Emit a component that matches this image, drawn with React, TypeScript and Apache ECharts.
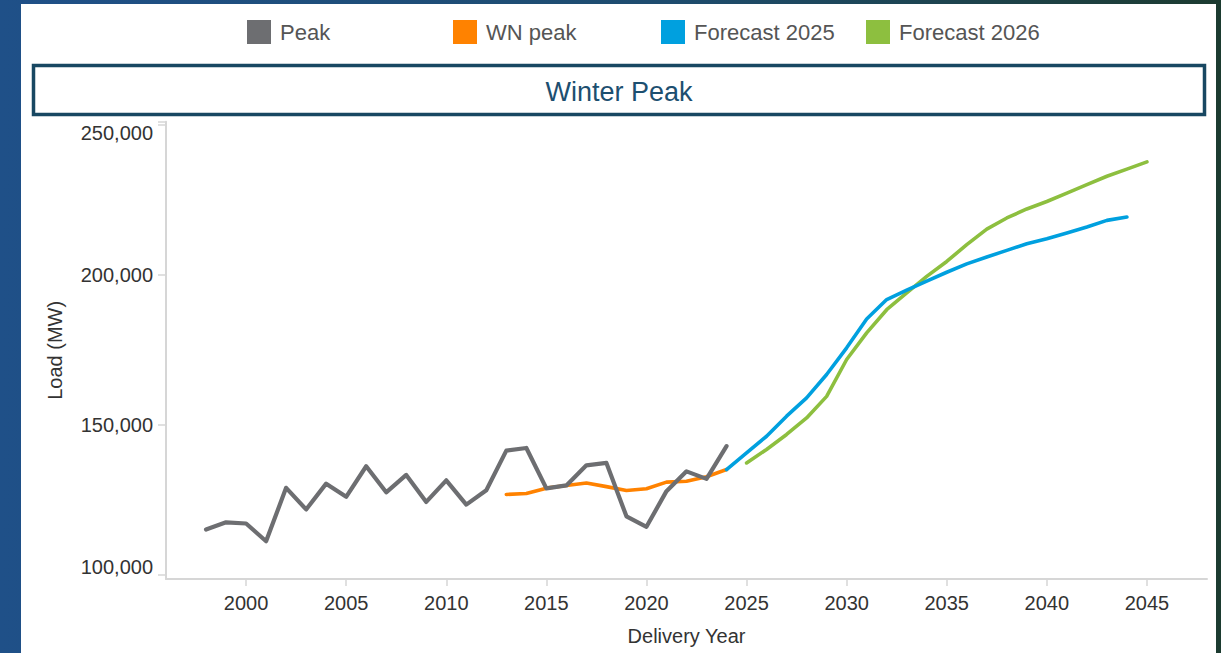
import React, { useEffect, useRef } from "react";
import * as echarts from "echarts";

const peakYears = [1998, 1999, 2000, 2001, 2002, 2003, 2004, 2005, 2006, 2007, 2008, 2009, 2010, 2011, 2012, 2013, 2014, 2015, 2016, 2017, 2018, 2019, 2020, 2021, 2022, 2023, 2024];
const peakValues = [115000, 117400, 117000, 111100, 128900, 121700, 130300, 125900, 136100, 127400, 133200, 124200, 131400, 123300, 128100, 141300, 142200, 128700, 129700, 136400, 137200, 119400, 115900, 127800, 134400, 131900, 142800];

const wnYears = [2013, 2014, 2015, 2016, 2017, 2018, 2019, 2020, 2021, 2022, 2023, 2024];
const wnValues = [126700, 127000, 128800, 129700, 130500, 129300, 128000, 128600, 130800, 131100, 132600, 135000];

const f25Years = [2024, 2025, 2026, 2027, 2028, 2029, 2030, 2031, 2032, 2033, 2034, 2035, 2036, 2037, 2038, 2039, 2040, 2041, 2042, 2043, 2044];
const f25Values = [135000, 140600, 146100, 152800, 158900, 166700, 175600, 185200, 191700, 194800, 197800, 200800, 203600, 205900, 208100, 210300, 212000, 213900, 215900, 218100, 219200];

const f26Years = [2025, 2026, 2027, 2028, 2029, 2030, 2031, 2032, 2033, 2034, 2035, 2036, 2037, 2038, 2039, 2040, 2041, 2042, 2043, 2044, 2045];
const f26Values = [137200, 141700, 146700, 152200, 159400, 171700, 180600, 188300, 193900, 199400, 204400, 210000, 215200, 218900, 221900, 224400, 227200, 230000, 232800, 235200, 237600];

const xTicks = [2000, 2005, 2010, 2015, 2020, 2025, 2030, 2035, 2040, 2045];
const yTicks = [100000, 150000, 200000, 250000];
const xMin = 1996;
const xMax = 2048;
const yMin = 98500;
const yMax = 251000;

const seriesNames = ["Peak", "WN peak", "Forecast 2025", "Forecast 2026"];
const seriesColors = ["#6d6e71", "#ff8200", "#00a0df", "#8dbf3f"];
const legendLefts = [247, 453, 661, 866];

const FONT = "'Liberation Sans', Arial, sans-serif";

function pairs(xs: number[], ys: number[]) {
  return xs.map((x, i) => [x, ys[i]]);
}

export default function App() {
  const ref = useRef<HTMLDivElement>(null);
  useEffect(() => {
    if (!ref.current) return;
    const chart = echarts.init(ref.current, undefined, { renderer: "svg" });
    const datasets = [
      pairs(peakYears, peakValues),
      pairs(wnYears, wnValues),
      pairs(f25Years, f25Values),
      pairs(f26Years, f26Values),
    ];
    const zs = [5, 3, 4, 3];
    const widths = [4.2, 3.6, 3.6, 3.6];
    chart.setOption({
      animation: false,
      textStyle: { fontFamily: FONT },
      graphic: [
        {
          type: "rect",
          z: -20,
          silent: true,
          shape: { x: 0, y: 0, width: 1221, height: 653 },
          style: {
            fill: new echarts.graphic.LinearGradient(0, 0, 1, 0, [
              { offset: 0, color: "#1f5088" },
              { offset: 0.55, color: "#1e4c6e" },
              { offset: 1, color: "#1c3b30" },
            ]),
          },
        },
        {
          type: "rect",
          z: -19,
          silent: true,
          shape: { x: 21, y: 4, width: 1195, height: 660 },
          style: { fill: "#ffffff" },
        },
        {
          type: "rect",
          z: -18,
          silent: true,
          shape: { x: 33.5, y: 65.5, width: 1171, height: 49 },
          style: { fill: "#ffffff", stroke: "#184862", lineWidth: 3.5 },
        },
        {
          type: "text",
          z: 10,
          x: 619,
          y: 92,
          style: {
            text: "Winter Peak",
            fill: "#1d4f70",
            font: `27px ${FONT}`,
            align: "center",
            verticalAlign: "middle",
          },
        },
      ],
      legend: seriesNames.map((n, i) => ({
        data: [{ name: n, icon: "rect" }],
        left: legendLefts[i],
        top: 20,
        padding: 0,
        itemWidth: 24,
        itemHeight: 24,
        selectedMode: false,
        textStyle: {
          fontSize: 22,
          color: "#555555",
          fontFamily: FONT,
          padding: [0, 0, 0, 4],
        },
      })),
      grid: {
        left: 166,
        right: 14,
        top: 121.7,
        bottom: 74,
        containLabel: false,
        outerBoundsMode: "none",
      },
      xAxis: {
        type: "value",
        min: xMin,
        max: xMax,
        name: "Delivery Year",
        nameLocation: "middle",
        nameGap: 47,
        nameTextStyle: { fontSize: 20, color: "#333333", fontFamily: FONT },
        axisLine: { show: true, lineStyle: { color: "#d6d6d6", width: 2 } },
        axisTick: {
          show: true,
          customValues: xTicks,
          length: 7,
          lineStyle: { color: "#d6d6d6", width: 1.5 },
        },
        axisLabel: {
          customValues: xTicks,
          margin: 14,
          fontSize: 20,
          color: "#333333",
          fontFamily: FONT,
          formatter: (v: number) => String(v),
        },
        splitLine: { show: false },
      },
      yAxis: {
        type: "value",
        min: yMin,
        max: yMax,
        name: "Load (MW)",
        nameLocation: "middle",
        nameGap: 101,
        nameTextStyle: { fontSize: 20, color: "#333333", fontFamily: FONT },
        axisLine: { show: true, lineStyle: { color: "#d6d6d6", width: 2 } },
        axisTick: {
          show: true,
          customValues: [...yTicks, yMax],
          length: 8,
          lineStyle: { color: "#d6d6d6", width: 1.5 },
        },
        axisLabel: {
          customValues: yTicks,
          margin: 13,
          fontSize: 20,
          color: "#333333",
          fontFamily: FONT,
          formatter: (v: number) => {
            const s = v.toLocaleString("en-US");
            if (v === yTicks[yTicks.length - 1]) return `{top|${s}}`;
            if (v === yTicks[0]) return `{bot|${s}}`;
            return s;
          },
          rich: {
            top: { fontSize: 20, color: "#333333", fontFamily: FONT, padding: [17, 0, 0, 0] },
            bot: { fontSize: 20, color: "#333333", fontFamily: FONT, padding: [0, 0, 16, 0] },
          },
        },
        splitLine: { show: false },
      },
      series: seriesNames.map((n, i) => ({
        name: n,
        type: "line",
        data: datasets[i],
        symbol: "none",
        z: zs[i],
        color: seriesColors[i],
        lineStyle: { color: seriesColors[i], width: widths[i], cap: "round", join: "round" },
      })),
    });
    return () => chart.dispose();
  }, []);
  return (
    <div
      ref={ref}
      style={{ position: "absolute", left: 0, top: 0, width: 1221, height: 653 }}
    />
  );
}
